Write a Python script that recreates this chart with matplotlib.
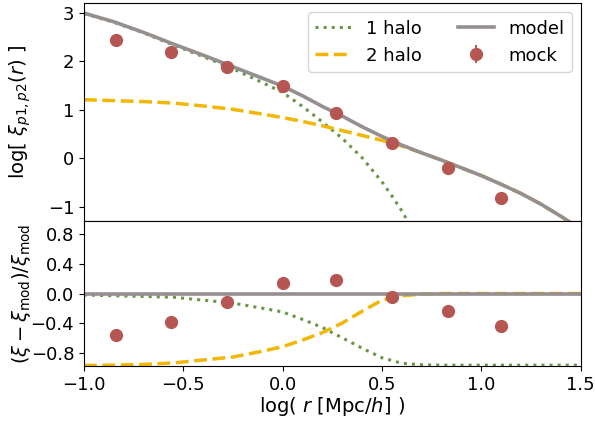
import numpy as np
import matplotlib
matplotlib.use("Agg")
import matplotlib.pyplot as plt

# sampled curves, log r [Mpc/h]
r_grid = [-1.0, -0.85, -0.7, -0.55, -0.4, -0.25, -0.1, 0.0, 0.1, 0.2, 0.3,
          0.4, 0.5, 0.6, 0.7, 0.8, 0.9, 1.0, 1.1, 1.2, 1.3, 1.4, 1.5]
log_model = [3.00, 2.82, 2.60, 2.36, 2.13, 1.89, 1.65, 1.49, 1.29, 1.07, 0.87,
             0.65, 0.45, 0.27, 0.11, -0.04, -0.20, -0.36, -0.54, -0.73, -0.95, -1.20, -1.47]
log_2h = [1.21, 1.19, 1.17, 1.14, 1.08, 1.01, 0.91, 0.84, 0.76, 0.67, 0.57,
          0.47, 0.37, 0.25, 0.11, -0.04, -0.20, -0.36, -0.54, -0.73, -0.95, -1.20, -1.47]

r_1h = [-1.0, -0.85, -0.7, -0.55, -0.4, -0.25, -0.1, 0.0, 0.1, 0.2, 0.3,
        0.4, 0.5, 0.55, 0.6, 0.65]
log_1h = [2.99, 2.81, 2.59, 2.34, 2.10, 1.85, 1.56, 1.36, 1.07, 0.75, 0.41,
          0.01, -0.49, -0.78, -1.09, -1.45]

# fractional residuals w.r.t. the model
res_1h = [-0.02, -0.03, -0.04, -0.05, -0.09, -0.13, -0.20, -0.25, -0.35, -0.46, -0.60,
          -0.74, -0.87, -0.945, -0.965, -0.97, -0.97, -0.97, -0.97, -0.97, -0.97, -0.97, -0.97]
res_2h = [-0.975, -0.97, -0.96, -0.94, -0.90, -0.86, -0.78, -0.72, -0.63, -0.53, -0.40,
          -0.24, -0.09, -0.03, -0.01, 0.0, 0.0, 0.0, 0.0, 0.0, 0.0, 0.0, 0.0]
res_model = [0.0] * len(r_grid)

# mock measurements
r_mock = [-0.84, -0.56, -0.28, 0.0, 0.27, 0.55, 0.83, 1.10]
log_mock = [2.45, 2.20, 1.89, 1.50, 0.94, 0.32, -0.20, -0.83]
log_mock_err = [0.03, 0.03, 0.03, 0.03, 0.03, 0.03, 0.03, 0.03]
res_mock = [-0.56, -0.39, -0.11, 0.14, 0.18, -0.05, -0.24, -0.44]
res_mock_err = [0.03, 0.03, 0.03, 0.03, 0.03, 0.03, 0.03, 0.03]

c_1h, c_2h, c_mod, c_mock = "#6a9646", "#f2b705", "#968f8f", "#b55653"

plt.rcParams.update({"font.size": 13})
fig, (ax, axr) = plt.subplots(2, 1, sharex=True, figsize=(5.95, 4.21), dpi=100,
                              gridspec_kw={"height_ratios": [3, 2]})
fig.subplots_adjust(left=0.141, right=0.976, top=0.992, bottom=0.130, hspace=0)

ax.plot(r_1h, log_1h, ":", color=c_1h, lw=2.2, label="1 halo")
ax.plot(r_grid, log_2h, "--", color=c_2h, lw=2.5, label="2 halo")
ax.plot(r_grid, log_model, "-", color=c_mod, lw=2.6, label="model")
ax.errorbar(r_mock, log_mock, yerr=log_mock_err, fmt="o", color=c_mock, ms=8.5,
            label="mock", zorder=5)
ax.set_ylim(-1.3, 3.2)
ax.set_yticks([-1, 0, 1, 2, 3])
ax.set_ylabel(r"log[ $\xi_{p1,p2}(r)$ ]", fontsize=14, labelpad=-1.5)
ax.legend(ncol=2, fontsize=13, loc="upper right")

axr.plot(r_grid, res_1h, ":", color=c_1h, lw=2.2)
axr.plot(r_grid, res_2h, "--", color=c_2h, lw=2.5)
axr.plot(r_grid, res_model, "-", color=c_mod, lw=2.6)
axr.errorbar(r_mock, res_mock, yerr=res_mock_err, fmt="o", color=c_mock, ms=8.5, zorder=5)
axr.set_ylim(-0.985, 0.98)
axr.set_yticks([-0.8, -0.4, 0.0, 0.4, 0.8])
axr.set_xlim(-1.0, 1.5)
axr.set_xticks([-1.0, -0.5, 0.0, 0.5, 1.0, 1.5])
axr.set_ylabel(r"$(\xi-\xi_{\rm mod})/\xi_{\rm mod}$", fontsize=14, labelpad=-1.5)
axr.set_xlabel(r"log( $r$ [Mpc/$h$] )", fontsize=14, labelpad=1)

fig.align_ylabels([ax, axr])
fig.savefig("out.png", dpi=100)
